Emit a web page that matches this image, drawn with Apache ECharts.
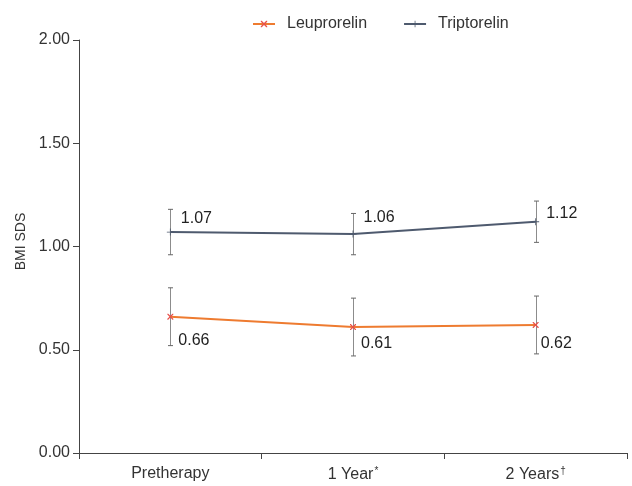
<!DOCTYPE html>
<html>
<head>
<meta charset="utf-8">
<script src="https://cdn.jsdelivr.net/npm/echarts@6/dist/echarts.min.js"></script>
<style>
  html, body { margin: 0; padding: 0; background: #fff; }
  #chart { width: 632px; height: 486px; }
</style>
</head>
<body>
<div id="chart"></div>
<script>
// Time points and their labels (superscript footnote marks)
const categories = ['Pretherapy', '1 Year', '2 Years'];
const categoryMarks = ['', '*', '†'];

// Mean BMI SDS per group
const leuprorelin = [0.66, 0.61, 0.62];
const triptorelin = [1.07, 1.06, 1.12];

// Error bar half-widths
const leuprorelinErr = [0.14, 0.14, 0.14];
const triptorelinErr = [0.11, 0.10, 0.10];

const yTicks = { min: 0, max: 2, interval: 0.5 };

// Hand-placed nudges for the value labels
const leuLabelNudge = [[0, 24], [0, 17], [-3, 19]];
const triLabelNudge = [[2, -13], [2, -17], [2, -8]];

const FONT = 'Liberation Sans, Arial, sans-serif';
const ORANGE = '#ee7b30';
const SLATE = '#4e5a6e';
const ERR = '#8c8c8c';

const xPath = 'path://M0,0 L1.5,0 L5,3.5 L8.5,0 L10,0 L10,1.5 L6.5,5 L10,8.5 L10,10 L8.5,10 L5,6.5 L1.5,10 L0,10 L0,8.5 L3.5,5 L0,1.5 Z';
const plusPath = 'path://M4.4,0 L5.6,0 L5.6,4.4 L10,4.4 L10,5.6 L5.6,5.6 L5.6,10 L4.4,10 L4.4,5.6 L0,5.6 L0,4.4 L4.4,4.4 Z';

function errorSeries(means, errs) {
  return {
    type: 'custom',
    silent: true,
    z: 1,
    data: means.map((m, i) => [i, m - errs[i], m + errs[i]]),
    renderItem: function (params, api) {
      const lo = api.coord([api.value(0), api.value(1)]);
      const hi = api.coord([api.value(0), api.value(2)]);
      const x = Math.round(lo[0]) + 0.5;
      const cap = 2.5;
      const st = { stroke: ERR, lineWidth: 1 };
      const capSt = { stroke: '#666', lineWidth: 1 };
      return {
        type: 'group',
        children: [
          { type: 'line', shape: { x1: x, y1: hi[1], x2: x, y2: lo[1] }, style: st },
          { type: 'line', shape: { x1: x - cap, y1: hi[1], x2: x + cap, y2: hi[1] }, style: capSt },
          { type: 'line', shape: { x1: x - cap, y1: lo[1], x2: x + cap, y2: lo[1] }, style: capSt }
        ]
      };
    }
  };
}

function valueLabel(nudge) {
  return nudge.map(o => ({
    show: true,
    position: 'right',
    offset: o,
    fontFamily: FONT,
    fontSize: 16,
    color: '#222'
  }));
}

const leuLabels = valueLabel(leuLabelNudge);
const triLabels = valueLabel(triLabelNudge);

const chart = echarts.init(document.getElementById('chart'), null, { renderer: 'canvas' });

chart.setOption({
  animation: false,
  backgroundColor: '#fff',
  textStyle: { fontFamily: FONT },
  legend: {
    top: 11,
    left: 247,
    itemWidth: 22,
    itemHeight: 8,
    itemGap: 36,
    textStyle: { fontFamily: FONT, fontSize: 16, color: '#333', padding: [0, 0, 0, 7] },
    data: ['Leuprorelin', 'Triptorelin']
  },
  grid: { left: 79, right: 5, top: 40, bottom: 33 },
  xAxis: {
    type: 'category',
    data: categories,
    boundaryGap: true,
    axisLine: { lineStyle: { color: '#444', width: 1 } },
    axisTick: { show: true, length: 6, alignWithLabel: false, lineStyle: { color: '#444' } },
    axisLabel: {
      margin: 13,
      fontFamily: FONT,
      fontSize: 16,
      color: '#333',
      formatter: function (v, i) {
        return categoryMarks[i] ? v + '{sup|' + categoryMarks[i] + '}' : v;
      },
      rich: {
        sup: { fontSize: 10, verticalAlign: 'top', padding: [0, 0, 8, 1], color: '#333', fontFamily: FONT }
      }
    },
    splitLine: { show: false }
  },
  yAxis: {
    type: 'value',
    min: yTicks.min,
    max: yTicks.max,
    interval: yTicks.interval,
    name: 'BMI SDS',
    nameLocation: 'middle',
    nameRotate: 90,
    nameGap: 48,
    nameTextStyle: { fontFamily: FONT, fontSize: 14, color: '#333', padding: [0, 0, 0, 10] },
    axisLine: { show: true, lineStyle: { color: '#444', width: 1 } },
    axisTick: { show: true, length: 6, lineStyle: { color: '#444' } },
    axisLabel: {
      margin: 9,
      fontFamily: FONT,
      fontSize: 16,
      color: '#333',
      formatter: v => v.toFixed(2)
    },
    splitLine: { show: false }
  },
  series: [
    errorSeries(leuprorelin, leuprorelinErr),
    errorSeries(triptorelin, triptorelinErr),
    {
      name: 'Leuprorelin',
      type: 'line',
      z: 3,
      data: leuprorelin.map((v, i) => ({ value: v, label: leuLabels[i] })),
      symbol: xPath,
      symbolSize: 6,
      itemStyle: { color: '#e8504a' },
      lineStyle: { color: ORANGE, width: 2 },
      label: { show: true, formatter: p => p.value.toFixed(2) }
    },
    {
      name: 'Triptorelin',
      type: 'line',
      z: 3,
      data: triptorelin.map((v, i) => ({ value: v, label: triLabels[i] })),
      symbol: plusPath,
      symbolSize: 7,
      itemStyle: { color: SLATE },
      lineStyle: { color: SLATE, width: 2 },
      label: { show: true, formatter: p => p.value.toFixed(2) }
    }
  ]
});
</script>
</body>
</html>
